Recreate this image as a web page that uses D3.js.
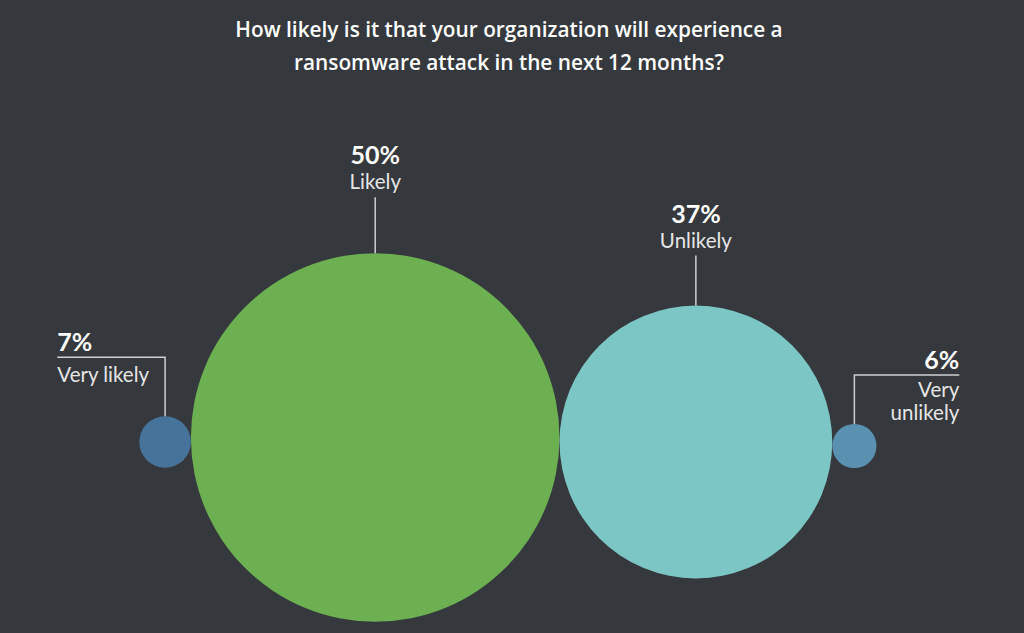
<!DOCTYPE html>
<html>
<head>
<meta charset="utf-8">
<script src="https://cdn.jsdelivr.net/npm/d3@7"></script>
<style>
  html, body { margin: 0; padding: 0; background: #35383c; }
  svg { display: block; }
</style>
</head>
<body>
<svg id="chart" width="1024" height="633"></svg>
<script>
// ---- Data ----
const titleLines = ["How likely is it that your organization will experience a", "ransomware attack in the next 12 months?"];
const categories = ["Very likely", "Likely", "Unlikely", "Very unlikely"];
const labelLines = [["Very likely"], ["Likely"], ["Unlikely"], ["Very", "unlikely"]];
const values = [7, 50, 37, 6];
const colors = ["#46739a", "#6cb052", "#7cc7c6", "#5a91b1"];

// ---- Layout ----
const W = 1024, H = 633;
const svg = d3.select("#chart");
const font = "Lato, 'Open Sans', sans-serif";
const titleFont = "'Open Sans', Lato, sans-serif";

const r = d3.scaleLinear().domain([0, 50]).range([0, 184.3]);

// circles packed side by side, tangent
const startX = 139.3;
const baseY = 442;
const yShift = [0, -4.5, 0, 4];
const labelPos = ["left", "top", "top", "right"];
const leaderLen = [59, 56, 50, 49];

let x = startX;
const nodes = values.map((v, i) => {
  const rad = r(v);
  const cx = x + rad;
  x += 2 * rad;
  return { i, v, rad, cx, cy: baseY + yShift[i], cat: categories[i], lines: labelLines[i], color: colors[i], pos: labelPos[i] };
});

// title
svg.append("g").selectAll("text").data(titleLines).join("text")
  .attr("x", 509).attr("y", (d, i) => 37 + i * 33)
  .attr("text-anchor", "middle")
  .attr("fill", "#ffffff")
  .attr("font-family", titleFont)
  .attr("font-weight", 600)
  .attr("font-size", 20.8)
  .text(d => d);

// circles
svg.append("g").selectAll("circle").data(nodes).join("circle")
  .attr("cx", d => d.cx).attr("cy", d => d.cy).attr("r", d => d.rad)
  .attr("fill", d => d.color);

// leaders and labels
const lineColor = "#cfd0d1";
nodes.forEach(d => {
  const g = svg.append("g");
  const top = d.cy - d.rad;
  const ly = top - leaderLen[d.i];
  if (d.pos === "top") {
    g.append("line").attr("x1", d.cx).attr("x2", d.cx).attr("y1", top).attr("y2", ly)
      .attr("stroke", lineColor).attr("stroke-width", 1.5);
    g.append("text").attr("x", d.cx).attr("y", ly - 33).attr("text-anchor", "middle")
      .attr("fill", "#fff").attr("font-family", font).attr("font-weight", 700).attr("font-size", 25)
      .text(d.v + "%");
    d.lines.forEach((t, k) => {
      g.append("text").attr("x", d.cx).attr("y", ly - 8 + k * 23).attr("text-anchor", "middle")
        .attr("fill", "#e6e6e6").attr("font-family", font).attr("font-weight", 400).attr("font-size", 20.5)
        .text(t);
    });
  } else {
    const left = d.pos === "left";
    const endX = left ? 57.3 : 959.3;
    g.append("path")
      .attr("d", `M${d.cx},${top}V${ly}H${endX}`)
      .attr("fill", "none").attr("stroke", lineColor).attr("stroke-width", 1.5);
    const anchor = left ? "start" : "end";
    g.append("text").attr("x", endX).attr("y", ly - 6).attr("text-anchor", anchor)
      .attr("fill", "#fff").attr("font-family", font).attr("font-weight", 700).attr("font-size", 25)
      .text(d.v + "%");
    d.lines.forEach((t, k) => {
      g.append("text").attr("x", endX).attr("y", ly + (left ? 25 : 22) + k * 23.5).attr("text-anchor", anchor)
        .attr("fill", "#e6e6e6").attr("font-family", font).attr("font-weight", 400).attr("font-size", 20.5)
        .text(t);
    });
  }
});
</script>
</body>
</html>
